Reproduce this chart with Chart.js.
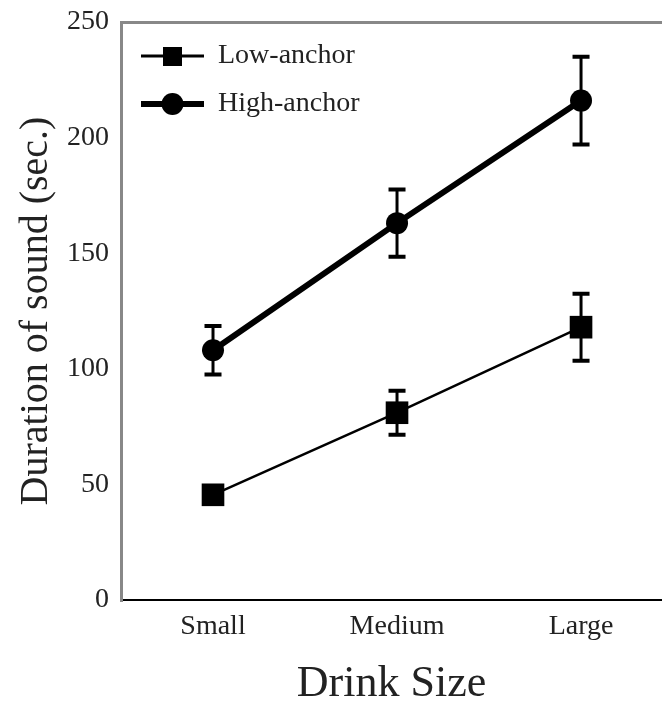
<!DOCTYPE html>
<html>
<head>
<meta charset="utf-8">
<script src="https://cdn.jsdelivr.net/npm/chart.js@4.4.1/dist/chart.umd.min.js"></script>
<style>
  html, body { margin: 0; background: #fff; overflow: hidden; }
  #wrap { width: 662px; height: 701px; }
</style>
</head>
<body>
<div id="wrap"><canvas id="durationChart"></canvas></div>
<script>
// drink size categories
const drinkSizes = ["Small", "Medium", "Large"];

// mean duration (sec.) and error bar half-lengths
const lowAnchor = [45.5, 81, 118];
const lowAnchorErr = [3, 9.5, 14.5];
const highAnchor = [108, 163, 216];
const highAnchorErr = [10.5, 14.5, 19];

const yTicks = [0, 50, 100, 150, 200, 250];

const serif = "'Liberation Serif', 'DejaVu Serif', serif";

// little legend samples: line through the marker
function legendSample(lineW, shape) {
    const c = document.createElement("canvas");
    c.width = 63;
    c.height = 26;
    const g = c.getContext("2d");
    g.fillStyle = "#000";
    g.fillRect(0, 13 - lineW / 2, 63, lineW);
    if (shape === "rect") {
        g.fillRect(22, 4, 19, 19);
    } else {
        g.beginPath();
        g.arc(31.5, 13, 11, 0, Math.PI * 2);
        g.fill();
    }
    return c;
}

const errorBars = {
    id: "errorBars",
    afterDatasetsDraw(chart) {
        const ctx = chart.ctx;
        const yScale = chart.scales.y;
        const errs = [lowAnchorErr, highAnchorErr];
        const vals = [lowAnchor, highAnchor];
        ctx.save();
        ctx.strokeStyle = "#000";
        chart.data.datasets.forEach((ds, di) => {
            const meta = chart.getDatasetMeta(di);
            meta.data.forEach((pt, i) => {
                const top = yScale.getPixelForValue(vals[di][i] + errs[di][i]);
                const bot = yScale.getPixelForValue(vals[di][i] - errs[di][i]);
                ctx.lineWidth = 3;
                ctx.beginPath();
                ctx.moveTo(pt.x, top);
                ctx.lineTo(pt.x, bot);
                ctx.stroke();
                ctx.lineWidth = 4;
                ctx.beginPath();
                ctx.moveTo(pt.x - 8.5, top);
                ctx.lineTo(pt.x + 8.5, top);
                ctx.moveTo(pt.x - 8.5, bot);
                ctx.lineTo(pt.x + 8.5, bot);
                ctx.stroke();
            });
        });
        ctx.restore();
    }
};

const lowImg = legendSample(3, "rect");
const highImg = legendSample(6, "circle");

new Chart(document.getElementById("durationChart"), {
    type: "line",
    data: {
        datasets: [
            {
                label: "Low-anchor",
                data: drinkSizes.map((_, i) => ({ x: i + 1, y: lowAnchor[i] })),
                borderColor: "#000",
                borderWidth: 2.5,
                pointStyle: "rect",
                pointRadius: 16,
                pointBackgroundColor: "#000",
                pointBorderWidth: 0,
            },
            {
                label: "High-anchor",
                data: drinkSizes.map((_, i) => ({ x: i + 1, y: highAnchor[i] })),
                borderColor: "#000",
                borderWidth: 6,
                pointStyle: "circle",
                pointRadius: 11,
                pointBackgroundColor: "#000",
                pointBorderWidth: 0,
            },
        ],
    },
    options: {
        responsive: true,
        maintainAspectRatio: false,
        animation: false,
        layout: { autoPadding: false, padding: { top: 22, left: 0, right: 0, bottom: 0 } },
        scales: {
            x: {
                type: "linear",
                min: 0.5,
                max: 3.44,
                afterBuildTicks: (axis) => {
                    axis.ticks = drinkSizes.map((_, i) => ({ value: i + 1 }));
                },
                afterFit: (scale) => {
                    scale.height = 101;
                    scale.paddingLeft = 0;
                    scale.paddingRight = 0;
                },
                grid: { display: false },
                border: { color: "#000", width: 2 },
                ticks: {
                    padding: 2,
                    color: "#222",
                    font: { family: serif, size: 28 },
                    callback: (v) => drinkSizes[v - 1],
                },
                title: {
                    display: true,
                    text: "Drink Size",
                    color: "#222",
                    font: { family: serif, size: 44 },
                    padding: { top: 0, bottom: -10 },
                },
            },
            y: {
                min: 0,
                max: 250,
                afterBuildTicks: (axis) => {
                    axis.ticks = yTicks.map((v) => ({ value: v }));
                },
                afterFit: (scale) => {
                    scale.width = 121;
                    scale.paddingTop = 0;
                    scale.paddingBottom = 0;
                },
                grid: {
                    drawTicks: false,
                    lineWidth: 3,
                    color: (c) => (c.tick && c.tick.value === 250 ? "#888" : "rgba(0,0,0,0)"),
                },
                border: { color: "#888", width: 3 },
                ticks: {
                    padding: 12,
                    color: "#222",
                    font: { family: serif, size: 28 },
                },
                title: {
                    display: true,
                    text: "Duration of sound (sec.)",
                    color: "#222",
                    font: { family: serif, size: 40 },
                    padding: { top: 12, bottom: 0 },
                },
            },
        },
        plugins: {
            tooltip: { enabled: false },
            legend: {
                position: "chartArea",
                align: "start",
                title: {
                    display: true,
                    text: " ",
                    font: { size: 10 },
                    padding: { top: 10, bottom: 0 },
                },
                labels: {
                    usePointStyle: true,
                    pointStyleWidth: 63,
                    padding: 20,
                    color: "#222",
                    font: { family: serif, size: 28 },
                    generateLabels: () => [
                        { text: "Low-anchor", pointStyle: lowImg, fontColor: "#222", lineWidth: 0 },
                        { text: "High-anchor", pointStyle: highImg, fontColor: "#222", lineWidth: 0 },
                    ],
                },
            },
        },
    },
    plugins: [errorBars],
});
</script>
</body>
</html>
